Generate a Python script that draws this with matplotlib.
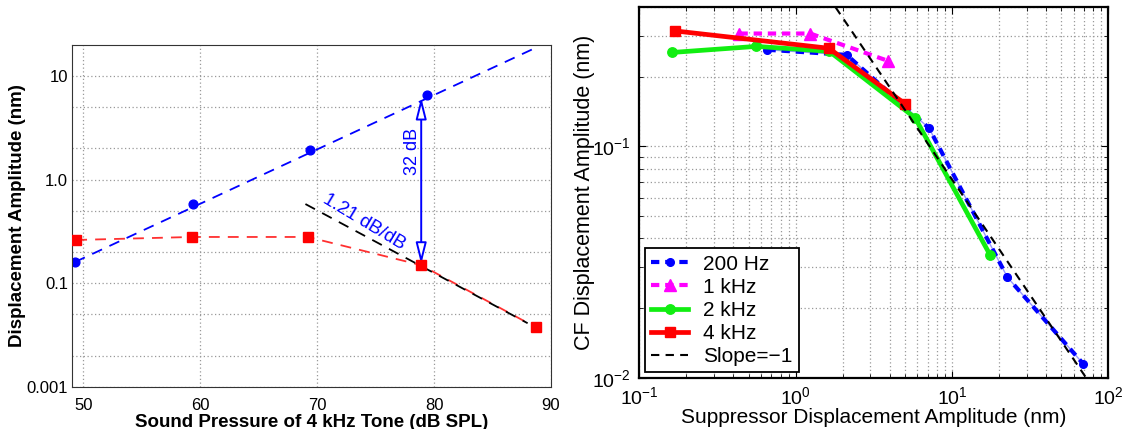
import matplotlib
matplotlib.use("Agg")
import matplotlib.pyplot as plt
from matplotlib.ticker import FixedLocator, NullFormatter, LogLocator

plt.rcParams["font.family"] = ["Liberation Sans", "DejaVu Sans"]
plt.rcParams["font.size"] = 13

# --- left panel: displacement vs level of the 4 kHz tone ---
spl_blue = [49.3, 59.4, 69.4, 79.4]
amp_blue = [0.159, 0.58, 1.93, 6.5]
fit_blue_x = [49.3, 88.9]
fit_blue_y = [0.16, 19.2]
spl_red = [49.4, 59.3, 69.2, 78.9, 88.7]
amp_red = [0.261, 0.279, 0.279, 0.149, 0.0374]
fit_black_x = [69.0, 88.0]
fit_black_y = [0.58, 0.041]
left_xticks = [50, 60, 70, 80, 90]
left_yticks = [0.01, 0.1, 1.0, 10.0]
left_yticklabels = ["0.001", "0.1", "1.0", "10"]
left_yminor = [0.02, 0.05, 0.2, 0.5, 2, 5]

# --- right panel: CF displacement vs suppressor displacement ---
sup_200 = [0.66, 2.12, 7.13, 22.6, 69.2]
cf_200 = [0.262, 0.249, 0.120, 0.0272, 0.01146]
sup_1k = [0.437, 1.24, 3.87]
cf_1k = [0.308, 0.308, 0.235]
sup_2k = [0.161, 0.56, 1.64, 5.81, 17.5]
cf_2k = [0.255, 0.271, 0.258, 0.133, 0.034]
sup_4k = [0.170, 1.63, 5.01]
cf_4k = [0.316, 0.266, 0.153]
slope_x = [1.8, 72.0]
slope_y = [0.40, 0.01]

fig = plt.figure(figsize=(11.25, 4.29), dpi=100)
ax1 = fig.add_axes([0.0643, 0.0986, 0.4255, 0.797])
ax2 = fig.add_axes([0.5683, 0.1196, 0.4169, 0.8634])

# left
dash = (6, 4.5)
ax1.plot(fit_blue_x, fit_blue_y, "--", color="blue", lw=1.3, dashes=dash)
ax1.plot(spl_blue, amp_blue, "o", color="blue", ms=6.3)
ax1.plot(spl_red, amp_red, "--", color="#ff3030", lw=1.3, dashes=dash)
ax1.plot(fit_black_x, fit_black_y, "--", color="black", lw=1.3, dashes=dash, zorder=3)
ax1.plot(spl_red, amp_red, "s", color="red", ms=7, zorder=4)
ax1.set_yscale("log")
ax1.set_xlim(49.07, 90)
ax1.set_ylim(0.01, 20)
ax1.yaxis.set_major_locator(FixedLocator(left_yticks))
ax1.set_yticklabels(left_yticklabels)
ax1.yaxis.set_minor_locator(FixedLocator(left_yminor))
ax1.yaxis.set_minor_formatter(NullFormatter())
ax1.set_xticks(left_xticks)
ax1.grid(True, which="both", axis="y", ls=(0, (1, 2)), color="#999999", lw=0.9)
ax1.grid(True, which="major", axis="x", ls=(0, (1, 2)), color="#999999", lw=0.9)
ax1.tick_params(which="both", direction="in", length=0, labelsize=12)
ax1.tick_params(axis="x", pad=8)
ax1.tick_params(axis="y", pad=3)
for s in ax1.spines.values():
    s.set_color("#333333")
ax1.set_xlabel("Sound Pressure of 4 kHz Tone (dB SPL)", fontweight="bold", fontsize=13.5)
ax1.set_ylabel("Displacement Amplitude (nm)", fontweight="bold", fontsize=13.5)
ax1.xaxis.set_label_coords(0.5, -0.08)
ax1.yaxis.set_label_coords(-0.097, 0.5)

ax1.annotate("", xy=(78.9, 6.2), xytext=(78.9, 0.152),
             arrowprops=dict(arrowstyle="<|-|>,head_length=1.0,head_width=0.25",
                             fc="white", ec="blue", lw=1.4, shrinkA=0, shrinkB=0))
ax1.text(78.15, 1.85, "32 dB", color="blue", rotation=90, ha="center", va="center", fontsize=13)
ax1.text(74.0, 0.39, "1.21 dB/dB", color="blue", rotation=-31, ha="center", va="center",
         rotation_mode="anchor", fontsize=13.5)

# right
ax2.plot(sup_200, cf_200, "-", color="#9999ff", lw=1.0, zorder=1.9)
ax2.plot(sup_200, cf_200, "-.", color="blue", lw=3, dashes=(2, 1.4), marker="o", ms=5.5,
         label="200 Hz", zorder=2)
ax2.plot(sup_1k, cf_1k, "--", color="magenta", lw=3, dashes=(2, 1.4), marker="^", ms=9,
         label="1 kHz", zorder=3)
ax2.plot(sup_2k, cf_2k, "-", color="#11ee11", lw=3.4, marker="o", ms=6.8, label="2 kHz", zorder=4)
ax2.plot(sup_4k, cf_4k, "-", color="red", lw=3.4, marker="s", ms=7.5, label="4 kHz", zorder=5)
ax2.plot(slope_x, slope_y, "--", color="black", lw=1.5, dashes=(4, 3), label="Slope=\u22121",
         zorder=6)
ax2.set_xscale("log")
ax2.set_yscale("log")
ax2.set_xlim(0.1, 100)
ax2.set_ylim(0.01, 0.4)
ax2.yaxis.set_minor_locator(LogLocator(base=10, subs=range(2, 10)))
ax2.yaxis.set_minor_formatter(NullFormatter())
ax2.grid(True, which="both", ls=(0, (1, 2)), color="#999999", lw=0.9)
ax2.tick_params(which="both", direction="in", top=True, right=True, labelsize=14, pad=6)
ax2.tick_params(which="major", length=5)
ax2.tick_params(which="minor", length=3)
for s in ax2.spines.values():
    s.set_linewidth(1.6)
ax2.set_xlabel("Suppressor Displacement Amplitude (nm)", fontsize=15)
ax2.set_ylabel("CF Displacement Amplitude (nm)", fontsize=15.5)
ax2.xaxis.set_label_coords(0.5, -0.082)
ax2.yaxis.set_label_coords(-0.095, 0.5)
leg = ax2.legend(loc="lower left", fontsize=15, handlelength=1.8, handletextpad=0.7,
                 borderpad=0.3, labelspacing=0.2, fancybox=False, framealpha=1,
                 edgecolor="black", borderaxespad=0.25)
leg.get_frame().set_linewidth(1.3)

fig.savefig("out.png", dpi=100)
